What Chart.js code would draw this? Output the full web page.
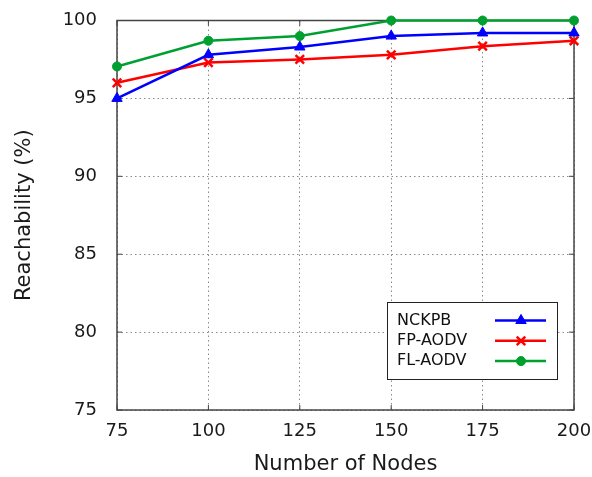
<!DOCTYPE html>
<html>
<head>
<meta charset="utf-8">
<script src="https://cdn.jsdelivr.net/npm/chart.js@4/dist/chart.umd.min.js"></script>
<style>
  html, body { margin: 0; padding: 0; background: #fff; }
  #wrap { width: 592px; height: 477px; }
</style>
</head>
<body>
<div id="wrap"><canvas id="chart"></canvas></div>
<script>
// Data
const nodes = [75, 100, 125, 150, 175, 200];
const nckpb = [95.0, 97.8, 98.3, 99.0, 99.2, 99.2];
const fpAodv = [96.0, 97.3, 97.5, 97.8, 98.35, 98.7];
const flAodv = [97.05, 98.7, 99.0, 100, 100, 100];
const xTicks = [75, 100, 125, 150, 175, 200];
const yTicks = [75, 80, 85, 90, 95, 100];

const FONT = 'DejaVu Sans';

function toPoints(values) {
  return nodes.map((n, i) => ({ x: n, y: values[i] }));
}

// Frame around the plot area with small inward tick marks
const framePlugin = {
  id: 'frame',
  beforeDatasetsDraw(chart) {
    const { ctx, chartArea: a, scales } = chart;
    ctx.save();
    ctx.strokeStyle = '#444';
    ctx.lineWidth = 1.5;
    ctx.strokeRect(a.left, a.top, a.right - a.left, a.bottom - a.top);
    ctx.lineWidth = 1;
    ctx.beginPath();
    xTicks.forEach(v => {
      const x = scales.x.getPixelForValue(v);
      ctx.moveTo(x, a.bottom); ctx.lineTo(x, a.bottom - 5);
      ctx.moveTo(x, a.top); ctx.lineTo(x, a.top + 5);
    });
    yTicks.forEach(v => {
      const y = scales.y.getPixelForValue(v);
      ctx.moveTo(a.left, y); ctx.lineTo(a.left + 5, y);
      ctx.moveTo(a.right, y); ctx.lineTo(a.right - 5, y);
    });
    ctx.stroke();
    ctx.restore();
  }
};

// Legend box in the lower right of the plot, label left and sample right
const legendPlugin = {
  id: 'boxLegend',
  afterDatasetsDraw(chart) {
    const { ctx } = chart;
    const box = { x: 387, y: 302, w: 170, h: 77 };
    ctx.save();
    ctx.fillStyle = '#fff';
    ctx.fillRect(box.x, box.y, box.w, box.h);
    ctx.strokeStyle = '#222';
    ctx.lineWidth = 1;
    ctx.strokeRect(box.x + 0.5, box.y + 0.5, box.w, box.h);
    ctx.font = '16px ' + FONT;
    ctx.textBaseline = 'middle';
    ctx.textAlign = 'left';
    chart.data.datasets.forEach((ds, i) => {
      const y = 320.5 + i * 20.3;
      ctx.fillStyle = '#111';
      ctx.fillText(ds.label, 397, y);
      ctx.strokeStyle = ds.borderColor;
      ctx.lineWidth = ds.borderWidth;
      ctx.beginPath();
      ctx.moveTo(495, y); ctx.lineTo(546, y);
      ctx.stroke();
      ctx.fillStyle = ds.pointBackgroundColor;
      ctx.lineWidth = ds.pointBorderWidth;
      Chart.helpers.drawPoint(ctx, {
        pointStyle: ds.pointStyle,
        radius: ds.pointRadius,
        rotation: 0,
        borderWidth: ds.pointBorderWidth
      }, 521, y);
      if (ds.pointStyle !== 'crossRot') ctx.fill();
    });
    ctx.restore();
  }
};

function series(label, values, color, style, radius) {
  return {
    label: label,
    data: toPoints(values),
    borderColor: color,
    backgroundColor: color,
    pointBackgroundColor: color,
    pointBorderColor: color,
    pointStyle: style,
    pointRadius: radius,
    pointBorderWidth: style === 'crossRot' ? 2.5 : 1,
    borderWidth: 2.5,
    tension: 0,
    clip: false
  };
}

new Chart(document.getElementById('chart'), {
  type: 'line',
  data: {
    datasets: [
      series('NCKPB', nckpb, '#0000ff', 'triangle', 6),
      series('FP-AODV', fpAodv, '#ff0000', 'crossRot', 6),
      series('FL-AODV', flAodv, '#00a030', 'circle', 4.5)
    ]
  },
  options: {
    responsive: true,
    maintainAspectRatio: false,
    animation: false,
    layout: { padding: { top: 20.5, right: 18, left: 0, bottom: 0 } },
    plugins: {
      legend: { display: false },
      tooltip: { enabled: false }
    },
    scales: {
      x: {
        type: 'linear',
        min: 75,
        max: 200,
        afterBuildTicks: axis => { axis.ticks = xTicks.map(v => ({ value: v })); },
        afterFit: axis => {
          axis.height = 67;
          axis.paddingLeft = 0;
          axis.paddingRight = 0;
        },
        grid: { color: '#8a8a8a', drawTicks: false },
        border: { display: false, dash: [1.5, 3] },
        ticks: { padding: 11, color: '#1a1a1a', font: { family: FONT, size: 18 } },
        title: {
          display: true,
          text: 'Number of Nodes',
          color: '#1a1a1a',
          padding: 0,
          font: { family: FONT, size: 21 }
        }
      },
      y: {
        min: 75,
        max: 100,
        afterBuildTicks: axis => { axis.ticks = yTicks.map(v => ({ value: v })); },
        afterFit: axis => {
          axis.width = 117;
          axis.paddingTop = 0;
          axis.paddingBottom = 0;
        },
        grid: { color: '#8a8a8a', drawTicks: false },
        border: { display: false, dash: [1.5, 3] },
        ticks: { padding: 20, color: '#1a1a1a', font: { family: FONT, size: 18 } },
        title: {
          display: true,
          text: 'Reachability (%)',
          color: '#1a1a1a',
          padding: { top: 12, bottom: 0 },
          font: { family: FONT, size: 21 }
        }
      }
    }
  },
  plugins: [framePlugin, legendPlugin]
});
</script>
</body>
</html>
